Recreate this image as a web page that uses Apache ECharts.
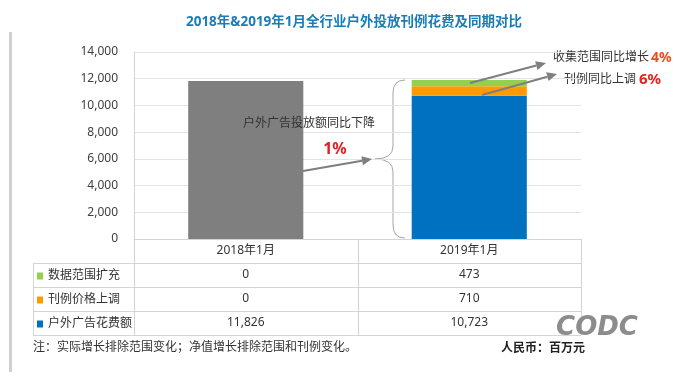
<!DOCTYPE html>
<html>
<head>
<meta charset="utf-8">
<script src="https://cdn.jsdelivr.net/npm/echarts@6/dist/echarts.min.js"></script>
<style>
html,body{margin:0;padding:0;background:#fff;}
#chart{width:681px;height:376px;}
</style>
</head>
<body>
<div id="chart"></div>
<script>
var categories = ['2018年1月', '2019年1月'];
var seriesNames = ['户外广告花费额', '刊例价格上调', '数据范围扩充'];
var spendValues = [11826, 10723];
var priceValues = [0, 710];
var scopeValues = [0, 473];
var yTicks = [0, 2000, 4000, 6000, 8000, 10000, 12000, 14000];
var titleText = '2018年&2019年1月全行业户外投放刊例花费及同期对比';
var noteText = '注：实际增长排除范围变化；净值增长排除范围和刊例变化。';
var unitText = '人民币：百万元';

var FONT = '"Noto Sans", "Noto Sans CJK SC", sans-serif';
var colors = { spend: '#0070C0', spend2018: '#7F7F7F', price: '#FF9A00', scope: '#92D050' };
var lineColor = '#D4D4D4';

function fmt(v) { return String(v).replace(/\B(?=(\d{3})+(?!\d))/g, ','); }

var chart = echarts.init(document.getElementById('chart'), null, { renderer: 'canvas' });

var gridLeft = 134, gridRight = 100, gridTop = 52, gridBottom = 137;
var W = 681, H = 376;
var x0 = gridLeft, x1 = W - gridRight, yBase = H - gridBottom;
var rowH = 24;

function rowAxis(values, idx) {
  return {
    type: 'category', gridIndex: 0, position: 'bottom', offset: rowH * idx,
    data: values.map(fmt),
    axisLine: { show: false }, axisTick: { show: false }, splitLine: { show: false },
    axisLabel: { margin: 6, fontSize: 12, color: '#333', fontFamily: FONT }
  };
}

var graphics = [];
graphics.push({ type: 'rect', shape: { x: 9, y: 32, width: 3, height: 340 }, style: { fill: '#D0D0D0' } });
var tRows = [yBase + rowH, yBase + rowH * 2, yBase + rowH * 3, yBase + rowH * 4];
tRows.forEach(function (y) {
  graphics.push({ type: 'line', shape: { x1: 33, y1: y + 0.5, x2: x1, y2: y + 0.5 }, style: { stroke: lineColor, lineWidth: 1 } });
});
graphics.push({ type: 'line', shape: { x1: x0, y1: yBase + 0.5, x2: x1, y2: yBase + 0.5 }, style: { stroke: lineColor, lineWidth: 1 } });
var xm = (x0 + x1) / 2;
[[33.5, yBase + rowH], [x0 + 0.5, yBase], [Math.round(xm) + 0.5, yBase], [x1 + 0.5, yBase]].forEach(function (p) {
  graphics.push({ type: 'line', shape: { x1: p[0], y1: p[1], x2: p[0], y2: yBase + rowH * 4 }, style: { stroke: lineColor, lineWidth: 1 } });
});

function arrow(sx, sy, ex, ey) {
  var dx = ex - sx, dy = ey - sy, L = Math.sqrt(dx * dx + dy * dy);
  var ux = dx / L, uy = dy / L, hl = 10, hw = 4.5;
  var bx = ex - ux * hl, by = ey - uy * hl;
  graphics.push({ type: 'line', z: 10, shape: { x1: sx, y1: sy, x2: bx, y2: by }, style: { stroke: '#7F7F7F', lineWidth: 2 } });
  graphics.push({ type: 'polygon', z: 10, shape: { points: [[ex, ey], [bx - uy * hw, by + ux * hw], [bx + uy * hw, by - ux * hw]] }, style: { fill: '#7F7F7F' } });
}
arrow(470, 83, 546, 63);
arrow(482, 95, 557, 74);
arrow(303, 171, 372, 159);

// brace
var braceStyle = { stroke: '#A6A6A6', lineWidth: 1, fill: null };
graphics.push({ type: 'bezierCurve', shape: { x1: 405, y1: 80, x2: 393, y2: 93, cpx1: 393, cpy1: 80 }, style: braceStyle });
graphics.push({ type: 'line', shape: { x1: 393, y1: 93, x2: 393, y2: 146 }, style: braceStyle });
graphics.push({ type: 'bezierCurve', shape: { x1: 393, y1: 146, x2: 375, y2: 159, cpx1: 393, cpy1: 159 }, style: braceStyle });
graphics.push({ type: 'bezierCurve', shape: { x1: 375, y1: 159, x2: 393, y2: 172, cpx1: 393, cpy1: 159 }, style: braceStyle });
graphics.push({ type: 'line', shape: { x1: 393, y1: 172, x2: 393, y2: 225 }, style: braceStyle });
graphics.push({ type: 'bezierCurve', shape: { x1: 393, y1: 225, x2: 405, y2: 238, cpx1: 393, cpy1: 238 }, style: braceStyle });

graphics.push({ type: 'text', style: { x: 553, y: 58, text: '收集范围同比增长', fontSize: 12, fontFamily: FONT, fill: '#333', textVerticalAlign: 'middle' } });
graphics.push({ type: 'text', style: { x: 651, y: 58, text: '4%', fontSize: 14, fontWeight: 'bold', fontFamily: FONT, fill: '#EE4B1E', textVerticalAlign: 'middle' } });
graphics.push({ type: 'text', style: { x: 564, y: 80, text: '刊例同比上调', fontSize: 12, fontFamily: FONT, fill: '#333', textVerticalAlign: 'middle' } });
graphics.push({ type: 'text', style: { x: 639, y: 80, text: '6%', fontSize: 15, fontWeight: 'bold', fontFamily: FONT, fill: '#E52420', textVerticalAlign: 'middle' } });
graphics.push({ type: 'text', z: 10, style: { x: 309, y: 124, text: '户外广告投放额同比下降', fontSize: 12, fontFamily: FONT, fill: '#333', textAlign: 'center', textVerticalAlign: 'middle' } });
graphics.push({ type: 'text', z: 10, style: { x: 335, y: 149, text: '1%', fontSize: 16, fontWeight: 'bold', fontFamily: FONT, fill: '#E31E24', textAlign: 'center', textVerticalAlign: 'middle' } });

graphics.push({ type: 'text', style: { x: 33, y: 348, text: noteText, fontSize: 12, fontFamily: FONT, fill: '#333', textVerticalAlign: 'middle' } });
graphics.push({ type: 'text', style: { x: 501, y: 349, text: unitText, fontSize: 12, fontWeight: 'bold', fontFamily: FONT, fill: '#222', textVerticalAlign: 'middle' } });
graphics.push({ type: 'text', style: { x: 597, y: 328, text: 'CODC', fontSize: 26, fontWeight: 'bold', fontStyle: 'italic', fontFamily: '"DejaVu Sans", sans-serif', fill: '#8C8C8C', textAlign: 'center', textVerticalAlign: 'middle' } });

var option = {
  animation: false,
  backgroundColor: '#fff',
  title: {
    text: titleText, left: 349, top: 10, textAlign: 'center',
    textStyle: { fontSize: 13.5, fontWeight: 'bold', color: '#1A7DB6', fontFamily: FONT }
  },
  legend: {
    orient: 'vertical', left: 37, top: yBase + rowH + 6, padding: 0,
    data: ['数据范围扩充', '刊例价格上调', '户外广告花费额'],
    icon: 'rect', itemWidth: 6, itemHeight: 7, itemGap: 10,
    textStyle: { fontSize: 12, lineHeight: 14, color: '#333', fontFamily: FONT },
    selectedMode: false
  },
  grid: { left: gridLeft, right: gridRight, top: gridTop, bottom: gridBottom, containLabel: false },
  xAxis: [
    {
      type: 'category', data: categories, position: 'bottom',
      axisLine: { show: true, lineStyle: { color: lineColor } }, axisTick: { show: false },
      axisLabel: { margin: 6, fontSize: 12, color: '#333', fontFamily: FONT }
    },
    rowAxis(scopeValues, 1),
    rowAxis(priceValues, 2),
    rowAxis(spendValues, 3)
  ],
  yAxis: {
    type: 'value', min: yTicks[0], max: yTicks[yTicks.length - 1], interval: yTicks[1] - yTicks[0],
    axisLine: { show: true, lineStyle: { color: lineColor } }, axisTick: { show: false },
    splitLine: { lineStyle: { color: '#E3E3E3', width: 1 } },
    axisLabel: { margin: 16, fontSize: 12, color: '#404040', fontFamily: FONT, formatter: function (v) { return fmt(v); } }
  },
  series: [
    {
      name: seriesNames[0], type: 'bar', stack: 'total', barWidth: '51.5%',
      itemStyle: { color: colors.spend },
      data: spendValues.map(function (v, i) { return i === 0 ? { value: v, itemStyle: { color: colors.spend2018 } } : v; })
    },
    { name: seriesNames[1], type: 'bar', stack: 'total', barWidth: '51.5%', itemStyle: { color: colors.price }, data: priceValues },
    { name: seriesNames[2], type: 'bar', stack: 'total', barWidth: '51.5%', itemStyle: { color: colors.scope }, data: scopeValues }
  ],
  graphic: graphics
};
chart.setOption(option);
</script>
</body>
</html>
